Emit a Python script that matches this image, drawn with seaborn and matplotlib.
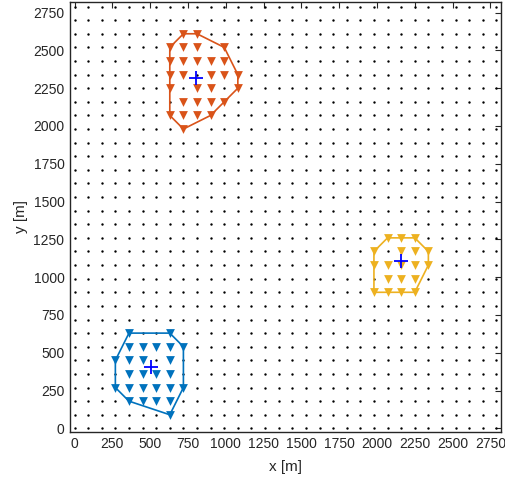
import numpy as np
import pandas as pd
import matplotlib
matplotlib.use("Agg")
import matplotlib.pyplot as plt
import seaborn as sns

# ---- data ----
grid_coords = [0, 90, 180, 270, 360, 450, 540, 630, 720, 810, 900, 990, 1080, 1170,
               1260, 1350, 1440, 1530, 1620, 1710, 1800, 1890, 1980, 2070, 2160, 2250,
               2340, 2430, 2520, 2610, 2700, 2790]

blue_x = [360, 630,
          360, 450, 540, 630, 720,
          270, 360, 450, 630,
          360, 450, 540, 630,
          270, 360, 450, 540, 630, 720,
          360, 450, 540, 630,
          630]
blue_y = [630, 630,
          540, 540, 540, 540, 540,
          450, 450, 450, 450,
          360, 360, 360, 360,
          270, 270, 270, 270, 270, 270,
          180, 180, 180, 180,
          90]

orange_x = [720, 810,
            630, 720, 810, 990,
            630, 720, 810, 900, 990,
            630, 720, 900, 990, 1080,
            630, 810, 900, 1080,
            720, 810, 900, 990,
            630, 720, 810, 900,
            720]
orange_y = [2610, 2610,
            2520, 2520, 2520, 2520,
            2430, 2430, 2430, 2430, 2430,
            2340, 2340, 2340, 2340, 2340,
            2250, 2250, 2250, 2250,
            2160, 2160, 2160, 2160,
            2070, 2070, 2070, 2070,
            1980]

yellow_x = [2070, 2160, 2250,
            1980, 2160, 2250, 2340,
            1980, 2070, 2160, 2250, 2340,
            2070, 2160, 2250,
            1980, 2070, 2160, 2250]
yellow_y = [1260, 1260, 1260,
            1170, 1170, 1170, 1170,
            1080, 1080, 1080, 1080, 1080,
            990, 990, 990,
            900, 900, 900, 900]

centroid_x = [507, 805, 2162]
centroid_y = [408, 2315, 1109]

tick_vals = [0, 250, 500, 750, 1000, 1250, 1500, 1750, 2000, 2250, 2500, 2750]

colors = {"blue": "#0072BD", "orange": "#D95319", "yellow": "#EDB120"}


def convex_hull(xs, ys):
    pts = sorted(set(zip(xs, ys)))
    def cross(o, a, b):
        return (a[0] - o[0]) * (b[1] - o[1]) - (a[1] - o[1]) * (b[0] - o[0])
    lower = []
    for p in pts:
        while len(lower) >= 2 and cross(lower[-2], lower[-1], p) <= 0:
            lower.pop()
        lower.append(p)
    upper = []
    for p in reversed(pts):
        while len(upper) >= 2 and cross(upper[-2], upper[-1], p) <= 0:
            upper.pop()
        upper.append(p)
    hull = lower[:-1] + upper[:-1]
    hull.append(hull[0])
    return pd.DataFrame(hull, columns=["x", "y"])


sns.set_style("white")
plt.rcParams["font.family"] = ["Liberation Sans", "DejaVu Sans"]

fig = plt.figure(figsize=(5.05, 4.78), dpi=100)
ax = fig.add_axes([0.1386, 0.0969, 0.8534, 0.8995])

gx, gy = np.meshgrid(grid_coords, grid_coords)
grid_df = pd.DataFrame({"x": gx.ravel(), "y": gy.ravel()})
sns.scatterplot(data=grid_df, x="x", y="y", ax=ax, color="black", s=3,
                marker="o", linewidth=0, zorder=1)

clusters = [("blue", blue_x, blue_y), ("orange", orange_x, orange_y),
            ("yellow", yellow_x, yellow_y)]
for name, xs, ys in clusters:
    hull = convex_hull(xs, ys)
    sns.lineplot(data=hull, x="x", y="y", sort=False, estimator=None, ax=ax,
                 color=colors[name], linewidth=1.2, zorder=2)
    df = pd.DataFrame({"x": xs, "y": ys})
    sns.scatterplot(data=df, x="x", y="y", ax=ax, color=colors[name], marker="v",
                    s=40, linewidth=0, zorder=3)

cdf = pd.DataFrame({"x": centroid_x, "y": centroid_y})
sns.scatterplot(data=cdf, x="x", y="y", ax=ax, color="#0000FF", marker="+",
                s=90, linewidth=1.3, zorder=4)

ax.set_xlim(-30, 2820)
ax.set_ylim(-22, 2822)
ax.set_xticks(tick_vals)
ax.set_yticks(tick_vals)
ax.set_xticklabels([str(v) for v in tick_vals])
ax.set_yticklabels([str(v) for v in tick_vals])
ax.tick_params(direction="in", length=4, width=0.8, colors="#262626",
               labelsize=10, top=True, right=True, pad=4)
for s in ax.spines.values():
    s.set_color("#262626")
    s.set_linewidth(1.0)
    s.set_visible(True)
ax.set_xlabel("x [m]", fontsize=11, color="#262626", labelpad=6)
ax.set_ylabel("y [m]", fontsize=11, color="#262626", labelpad=4)
ax.grid(False)

fig.savefig("out.png", dpi=100)
